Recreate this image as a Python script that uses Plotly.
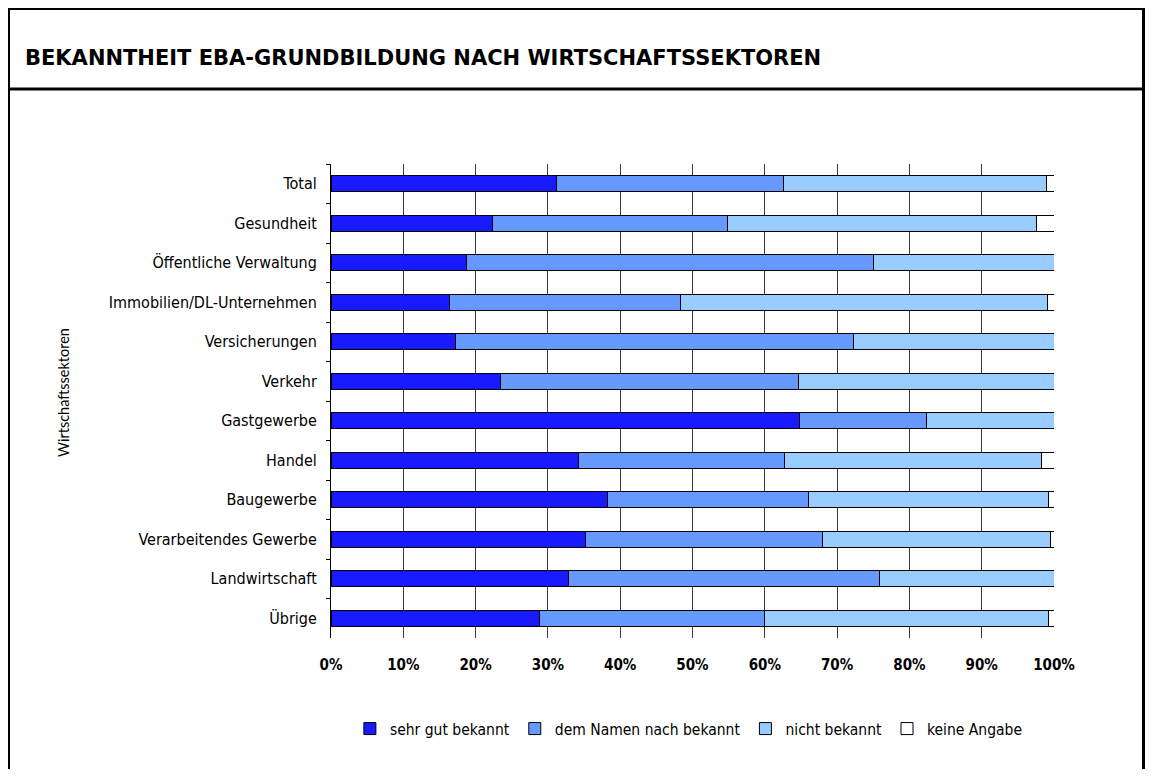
import plotly.graph_objects as go

# page has an 8px body margin, so the figure is drawn 8px in from the corner
OFF = 8
W, H = 1153 - 2 * OFF, 777 - 2 * OFF
L, R, T, B = 331 - OFF, 1153 - OFF * 2 - (1054 - OFF), 164 - OFF, (777 - OFF * 2) - (638 - OFF)

FONT = "DejaVu Sans Condensed"

sectors = [
    "Total", "Gesundheit", "Öffentliche Verwaltung", "Immobilien/DL-Unternehmen",
    "Versicherungen", "Verkehr", "Gastgewerbe", "Handel", "Baugewerbe",
    "Verarbeitendes Gewerbe", "Landwirtschaft", "Übrige",
]

sehr_gut = [31.2, 22.3, 18.7, 16.4, 17.2, 23.4, 64.8, 34.3, 38.2, 35.2, 32.8, 28.9]
dem_namen = [31.4, 32.5, 56.3, 32.0, 55.1, 41.2, 17.6, 28.4, 27.8, 32.8, 43.1, 31.0]
nicht = [36.3, 42.8, 25.0, 50.7, 27.7, 35.4, 17.6, 35.6, 33.3, 31.5, 24.1, 39.4]
keine = [1.1, 2.4, 0.0, 0.9, 0.0, 0.0, 0.0, 1.7, 0.7, 0.5, 0.0, 0.7]

series = [
    ("sehr gut bekannt", sehr_gut, "#1A1AFF"),
    ("dem Namen nach bekannt", dem_namen, "#6699FF"),
    ("nicht bekannt", nicht, "#99CCFF"),
    ("keine Angabe", keine, "#FFFFFF"),
]

fig = go.Figure()
for name, vals, color in series:
    fig.add_trace(go.Bar(
        x=vals,
        y=sectors,
        name=name,
        orientation="h",
        width=0.41,
        marker=dict(color=color, line=dict(color="#000000", width=1)),
    ))


# helpers to place frame decoration using reference-screen pixels
def px_x(p):
    return (p - 331) / (1054 - 331)


def px_y(p):
    return (638 - p) / (638 - 164)


fig.update_layout(
    width=W,
    height=H,
    barmode="stack",
    plot_bgcolor="#FFFFFF",
    paper_bgcolor="#FFFFFF",
    margin=dict(l=L, r=R, t=T, b=B),
    font=dict(family=FONT, size=16, color="#000000"),
    title=dict(
        text="<b>BEKANNTHEIT EBA-GRUNDBILDUNG NACH WIRTSCHAFTSSEKTOREN</b>",
        font=dict(family="DejaVu Sans", size=21, color="#000000"),
        x=(25 - OFF) / W,
        xanchor="left",
        xref="container",
        y=1 - (58 - OFF) / H,
        yanchor="middle",
        yref="container",
    ),
    xaxis=dict(
        range=[0, 100],
        tickvals=[0, 10, 20, 30, 40, 50, 60, 70, 80, 90, 100],
        ticktext=[f"<b>{v}%</b>" for v in range(0, 101, 10)],
        showgrid=True,
        gridcolor="#3a3a3a",
        gridwidth=1,
        zeroline=False,
        showline=False,
        ticks="",
        ticklabelstandoff=16,
        tickfont=dict(family=FONT, size=15),
    ),
    yaxis=dict(
        autorange="reversed",
        showline=True,
        linecolor="#000000",
        linewidth=1,
        ticks="outside",
        tickson="boundaries",
        ticklen=4,
        tickcolor="#000000",
        showgrid=False,
        ticklabelstandoff=10,
        tickfont=dict(family=FONT, size=16),
    ),
    legend=dict(
        orientation="h",
        x=0.495,
        xanchor="center",
        y=px_y(729),
        yanchor="middle",
        font=dict(family=FONT, size=15.5),
        traceorder="normal",
        bgcolor="rgba(0,0,0,0)",
    ),
    showlegend=True,
)

fig.add_annotation(
    text="Wirtschaftssektoren",
    textangle=-90,
    xref="paper",
    yref="paper",
    x=px_x(63),
    y=px_y(393),
    xanchor="center",
    yanchor="middle",
    showarrow=False,
    font=dict(family="Lato", size=14.5, color="#000000"),
)

# outer frame and title divider
fig.add_shape(type="rect", xref="paper", yref="paper",
              x0=px_x(8.5), x1=px_x(1143.5), y0=px_y(800), y1=px_y(8.5),
              line=dict(color="#000000", width=3), layer="below")
fig.add_shape(type="line", xref="paper", yref="paper",
              x0=px_x(8.5), x1=px_x(1143.5), y0=px_y(89), y1=px_y(89),
              line=dict(color="#000000", width=3), layer="below")

fig.write_html("out.html")
